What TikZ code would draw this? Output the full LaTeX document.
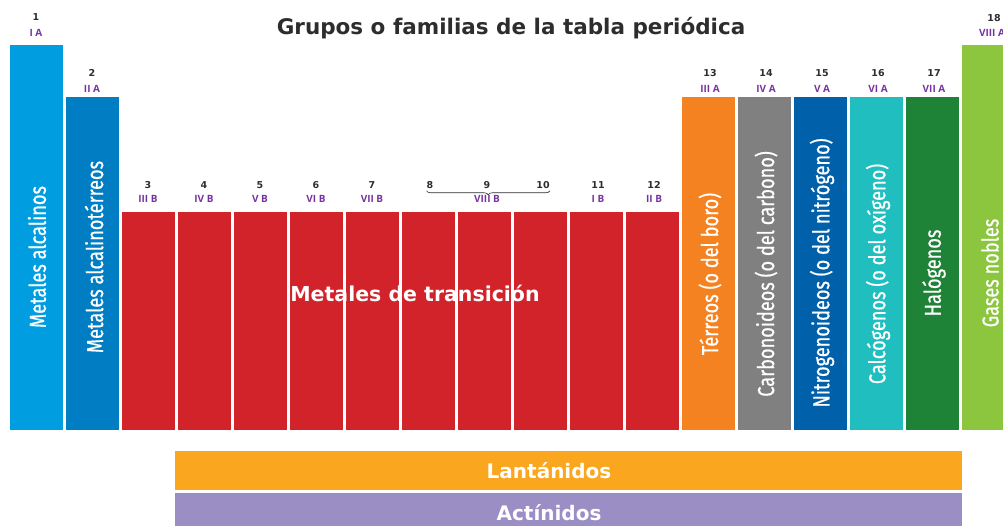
\documentclass[tikz,border=0pt]{standalone}
\usepackage{fontspec}
\setmainfont{Open Sans}
\newfontfamily\titfont{DejaVu Sans}
\newfontfamily\condfont[FakeStretch=0.79,FakeBold=0.7]{Fira Sans}
\usetikzlibrary{decorations.pathreplacing}

\definecolor{alcalino}{RGB}{0,158,224}
\definecolor{terreo}{RGB}{0,125,195}
\definecolor{transicion}{RGB}{210,35,42}
\definecolor{boro}{RGB}{245,130,32}
\definecolor{carbono}{RGB}{128,128,128}
\definecolor{nitrogeno}{RGB}{0,96,170}
\definecolor{oxigeno}{RGB}{32,190,190}
\definecolor{halogeno}{RGB}{30,130,55}
\definecolor{noble}{RGB}{140,198,63}
\definecolor{lantanido}{RGB}{251,166,31}
\definecolor{actinido}{RGB}{155,142,196}
\definecolor{romano}{RGB}{120,50,160}
\definecolor{numero}{RGB}{45,45,45}

\begin{document}
\begin{tikzpicture}[x=1pt,y=1pt,every node/.style={inner sep=0pt},
	bar/.style={anchor=south,minimum width=53pt},
	num/.style={text=numero,font=\titfont\bfseries\fontsize{9.5}{9.5}\selectfont},
	rom/.style={text=romano,font=\bfseries\fontsize{10}{10}\selectfont},
	fam/.style={rotate=90,text=white,font=\condfont\fontsize{23}{23}\selectfont},
	serie/.style={minimum width=787pt,minimum height=39pt},
	rotulo/.style={text=white,font=\titfont\bfseries\fontsize{20}{20}\selectfont}]
      \clip (0,0) rectangle (1003,526);

      \node [text=numero,font=\titfont\bfseries\fontsize{21.5}{21.5}\selectfont] (titulo) at (511,498) {Grupos o familias de la tabla periódica};

      % columnas
      \node [bar,fill=alcalino,minimum height=385pt] (g1) at (36,96) {};
      \node [bar,fill=terreo,minimum height=333pt] (g2) at (92,96) {};
      \node [bar,fill=transicion,minimum height=218pt] (g3) at (148,96) {};
      \node [bar,fill=transicion,minimum height=218pt] (g4) at (204,96) {};
      \node [bar,fill=transicion,minimum height=218pt] (g5) at (260,96) {};
      \node [bar,fill=transicion,minimum height=218pt] (g6) at (316,96) {};
      \node [bar,fill=transicion,minimum height=218pt] (g7) at (372,96) {};
      \node [bar,fill=transicion,minimum height=218pt] (g8) at (428,96) {};
      \node [bar,fill=transicion,minimum height=218pt] (g9) at (484,96) {};
      \node [bar,fill=transicion,minimum height=218pt] (g10) at (540,96) {};
      \node [bar,fill=transicion,minimum height=218pt] (g11) at (596,96) {};
      \node [bar,fill=transicion,minimum height=218pt] (g12) at (652,96) {};
      \node [bar,fill=boro,minimum height=333pt] (g13) at (708,96) {};
      \node [bar,fill=carbono,minimum height=333pt] (g14) at (764,96) {};
      \node [bar,fill=nitrogeno,minimum height=333pt] (g15) at (820,96) {};
      \node [bar,fill=oxigeno,minimum height=333pt] (g16) at (876,96) {};
      \node [bar,fill=halogeno,minimum height=333pt] (g17) at (932,96) {};
      \node [bar,fill=noble,minimum height=385pt] (g18) at (988,96) {};

      % numeros y romanos
      \node [num] (n1) at (36,509) {1};
      \node [rom] (r1) at (36,493) {I A};
      \node [num] (n2) at (92,453) {2};
      \node [rom] (r2) at (92,437) {II A};
      \node [num] (n3) at (148,341) {3};
      \node [rom] (r3) at (148,327) {III B};
      \node [num] (n4) at (204,341) {4};
      \node [rom] (r4) at (204,327) {IV B};
      \node [num] (n5) at (260,341) {5};
      \node [rom] (r5) at (260,327) {V B};
      \node [num] (n6) at (316,341) {6};
      \node [rom] (r6) at (316,327) {VI B};
      \node [num] (n7) at (372,341) {7};
      \node [rom] (r7) at (372,327) {VII B};
      \node [num] (n8) at (430,341) {8};
      \node [num] (n9) at (487,341) {9};
      \node [num] (n10) at (543,341) {10};
      \node [rom] (r9) at (487,327) {VIII B};
      \node [num] (n11) at (598,341) {11};
      \node [rom] (r11) at (598,327) {I B};
      \node [num] (n12) at (654,341) {12};
      \node [rom] (r12) at (654,327) {II B};
      \node [num] (n13) at (710,453) {13};
      \node [rom] (r13) at (710,437) {III A};
      \node [num] (n14) at (766,453) {14};
      \node [rom] (r14) at (766,437) {IV A};
      \node [num] (n15) at (822,453) {15};
      \node [rom] (r15) at (822,437) {V A};
      \node [num] (n16) at (878,453) {16};
      \node [rom] (r16) at (878,437) {VI A};
      \node [num] (n17) at (934,453) {17};
      \node [rom] (r17) at (934,437) {VII A};
      \node [num] (n18) at (994,508) {18};
      \node [rom] (r18) at (992,493) {VIII A};

      \draw [numero,line width=0.6pt,decorate,decoration={brace,amplitude=4pt}]
        ([yshift=-2pt]n10.south east) -- ([yshift=-2pt]n8.south west);

      % familias
      \node [fam] (t1) at (37,269) {Metales alcalinos};
      \node [fam] (t2) at (94,269) {Metales alcalinotérreos};
      \node [fam] (t13) at (710,252) {Térreos (o del boro)};
      \node [fam] (t14) at (766,252) {Carbonoideos (o del carbono)};
      \node [fam] (t15) at (822,253) {Nitrogenoideos (o del nitrógeno)};
      \node [fam] (t16) at (878,252) {Calcógenos (o del oxígeno)};
      \node [fam] (t17) at (934,253) {Halógenos};
      \node [fam] (t18) at (990,253) {Gases nobles};
      \node [text=white,font=\titfont\bfseries\fontsize{20.5}{20.5}\selectfont] (tr) at (415,233) {Metales de transición};

      % lantanidos y actinidos
      \node [serie,fill=lantanido] (lan) at (568.5,55.5) {};
      \node [serie,fill=actinido] (act) at (568.5,13.5) {};
      \node [rotulo] (tlan) at (549,55.5) {Lantánidos};
      \node [rotulo] (tact) at (549,13.5) {Actínidos};
    \end{tikzpicture}
\end{document}
